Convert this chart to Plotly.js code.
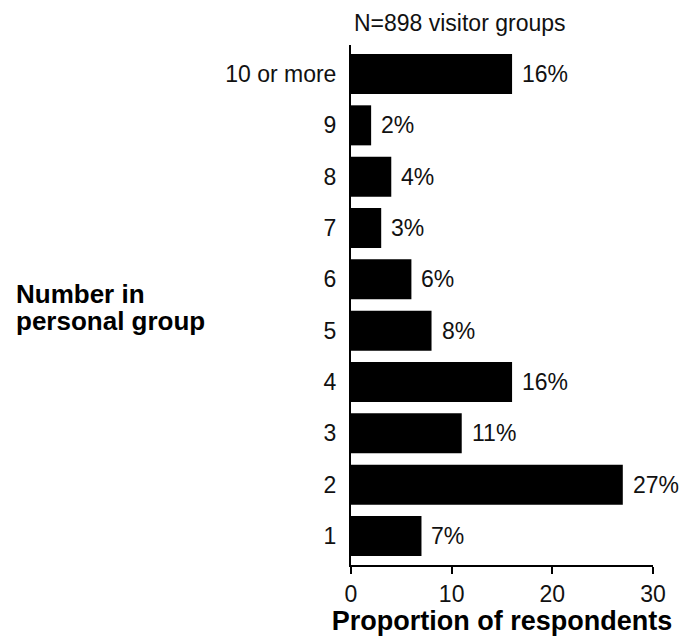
<!DOCTYPE html>
<html>
<head>
<meta charset="utf-8">
<script src="https://cdn.plot.ly/plotly-3.0.1.min.js"></script>
<style>html,body{margin:0;padding:0;background:#fff;}#chart{width:685px;height:636px;}</style>
</head>
<body>
<div id="chart"></div>
<script>
const categories = ["1", "2", "3", "4", "5", "6", "7", "8", "9", "10 or more"];
const percents = [7, 27, 11, 16, 8, 6, 3, 4, 2, 16];
const xTicks = [0, 10, 20, 30];

const font = "Liberation Sans, Arial, sans-serif";

const trace = {
  type: "bar",
  orientation: "h",
  y: categories,
  x: percents,
  marker: {color: "#000000", line: {width: 0}},
  width: 0.78,
  hoverinfo: "none"
};

const labelAnns = categories.map((c, i) => ({
  x: percents[i], y: i, xref: "x", yref: "y",
  text: percents[i] + "%", showarrow: false,
  xanchor: "left", yanchor: "middle", xshift: 8,
  font: {family: font, size: 23, color: "#111"}
}));

const titleLines = ["<b>Number in</b>", "<b>personal group</b>"];
const titleAnns = titleLines.map((t, i) => ({
  text: t, xref: "paper", yref: "paper", x: -1.116, y: [0.521, 0.469][i],
  xanchor: "left", yanchor: "middle", align: "left", showarrow: false,
  font: {family: font, size: 26, color: "#000"}
}));

const layout = {
  width: 685, height: 636,
  margin: {l: 351, r: 32, t: 45, b: 71, pad: 0},
  paper_bgcolor: "#fff", plot_bgcolor: "#fff",
  showlegend: false,
  title: {
    text: "N=898 visitor groups",
    x: 0.36, xanchor: "center", xref: "paper",
    y: 22, yanchor: "middle", yref: "container",
    font: {family: font, size: 23, color: "#111"}
  },
  xaxis: {
    range: [0, 30], tickvals: xTicks, ticktext: xTicks.map(String),
    showgrid: false, zeroline: false,
    showline: true, linecolor: "#000", linewidth: 2,
    ticks: "outside", ticklen: 7, tickwidth: 2, tickcolor: "#000",
    tickfont: {family: font, size: 23, color: "#111"},
    title: {text: "<b>Proportion of respondents</b>", standoff: 2,
            font: {family: font, size: 27, color: "#000"}},
    fixedrange: true
  },
  yaxis: {
    type: "category", categoryorder: "array", categoryarray: categories,
    range: [-0.565, 9.565],
    showgrid: false, zeroline: false,
    showline: true, linecolor: "#000", linewidth: 2,
    ticks: "", ticklabelstandoff: 8,
    tickfont: {family: font, size: 23, color: "#111"},
    fixedrange: true
  },
  annotations: labelAnns.concat(titleAnns)
};

Plotly.newPlot("chart", [trace], layout, {displayModeBar: false, staticPlot: true});
</script>
</body>
</html>
